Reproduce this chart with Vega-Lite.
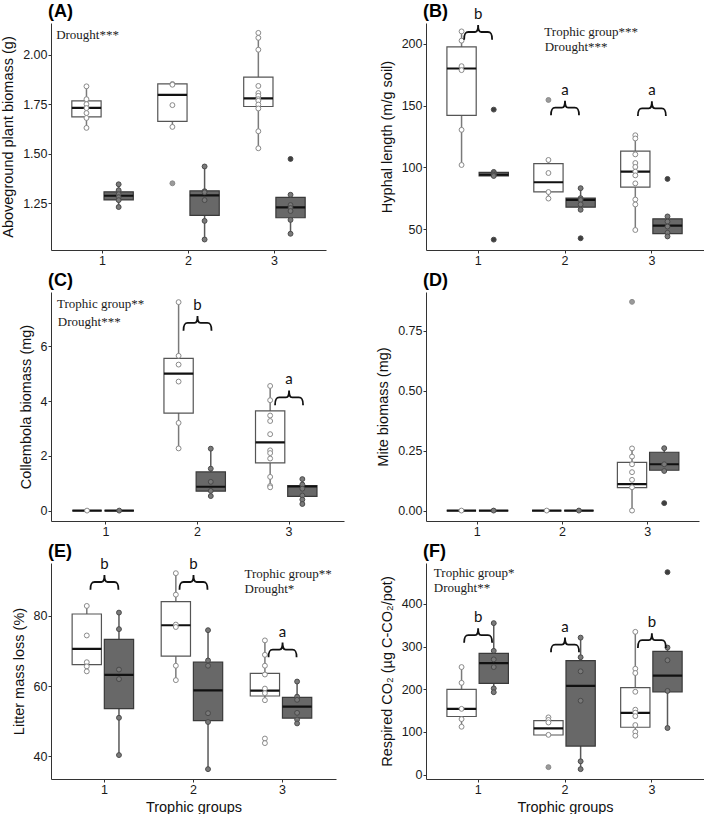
{
"$schema": "https://vega.github.io/schema/vega-lite/v6.json",
"background": "white",
"padding": {"top": 3, "left": 0, "right": 0, "bottom": 0},
"columns": 2,
"bounds": "flush",
"align": "each",
"spacing": {"row": 42, "column": 82},
"config": {
 "view": {"stroke": null},
 "font": "Liberation Sans",
 "axis": {"grid": false, "domainColor": "#333333", "domainWidth": 1, "tickColor": "#333333", "tickSize": 3, "tickWidth": 1, "labelFont": "Liberation Sans", "labelFontSize": 12.5, "labelColor": "#1a1a1a", "labelPadding": 1, "titleFont": "Liberation Sans", "titleFontSize": 14.5, "titleFontWeight": "normal", "titleColor": "#111111", "titlePadding": 7},
 "axisX": {"labelAngle": 0, "titlePadding": 5, "labelPadding": 1},
 "title": {"font": "Liberation Sans", "fontSize": 18, "fontWeight": "bold", "anchor": "start", "frame": "group", "color": "#000000"}
},
"datasets": {
 "boxes": [
  {"panel":"A","group":1,"trt":"Control","lo":1.63,"q1":1.686,"med":1.731,"q3":1.767,"hi":1.84},
  {"panel":"A","group":1,"trt":"Drought","lo":1.23,"q1":1.266,"med":1.287,"q3":1.307,"hi":1.345},
  {"panel":"A","group":2,"trt":"Control","lo":1.635,"q1":1.663,"med":1.797,"q3":1.852,"hi":1.852},
  {"panel":"A","group":2,"trt":"Drought","lo":1.066,"q1":1.188,"med":1.289,"q3":1.312,"hi":1.437},
  {"panel":"A","group":3,"trt":"Control","lo":1.527,"q1":1.738,"med":1.779,"q3":1.887,"hi":2.11},
  {"panel":"A","group":3,"trt":"Drought","lo":1.095,"q1":1.176,"med":1.228,"q3":1.279,"hi":1.294},
  {"panel":"B","group":1,"trt":"Control","lo":101.9,"q1":142.2,"med":180.1,"q3":197.6,"hi":210.2},
  {"panel":"B","group":1,"trt":"Drought","lo":93,"q1":93,"med":94,"q3":96,"hi":96.3},
  {"panel":"B","group":2,"trt":"Control","lo":74.7,"q1":80.1,"med":87.9,"q3":103,"hi":106},
  {"panel":"B","group":2,"trt":"Drought","lo":65.6,"q1":67.7,"med":73.7,"q3":75,"hi":83.1},
  {"panel":"B","group":3,"trt":"Control","lo":49.2,"q1":83.9,"med":96.5,"q3":113.2,"hi":126},
  {"panel":"B","group":3,"trt":"Drought","lo":43.5,"q1":46.2,"med":52.7,"q3":58.3,"hi":60.2},
  {"panel":"C","group":1,"trt":"Control","lo":0,"q1":0,"med":0,"q3":0,"hi":0},
  {"panel":"C","group":1,"trt":"Drought","lo":0,"q1":0,"med":0,"q3":0,"hi":0},
  {"panel":"C","group":2,"trt":"Control","lo":2.27,"q1":3.56,"med":5.0,"q3":5.56,"hi":7.61},
  {"panel":"C","group":2,"trt":"Drought","lo":0.52,"q1":0.71,"med":0.87,"q3":1.41,"hi":2.26},
  {"panel":"C","group":3,"trt":"Control","lo":0.85,"q1":1.74,"med":2.49,"q3":3.64,"hi":4.55},
  {"panel":"C","group":3,"trt":"Drought","lo":0.24,"q1":0.52,"med":0.88,"q3":0.91,"hi":1.15},
  {"panel":"D","group":1,"trt":"Control","lo":0,"q1":0,"med":0,"q3":0,"hi":0},
  {"panel":"D","group":1,"trt":"Drought","lo":0,"q1":0,"med":0,"q3":0,"hi":0},
  {"panel":"D","group":2,"trt":"Control","lo":0,"q1":0,"med":0,"q3":0,"hi":0},
  {"panel":"D","group":2,"trt":"Drought","lo":0,"q1":0,"med":0,"q3":0,"hi":0},
  {"panel":"D","group":3,"trt":"Control","lo":0,"q1":0.096,"med":0.11,"q3":0.201,"hi":0.259},
  {"panel":"D","group":3,"trt":"Drought","lo":0.16,"q1":0.168,"med":0.193,"q3":0.243,"hi":0.26},
  {"panel":"E","group":1,"trt":"Control","lo":64.2,"q1":66.1,"med":70.6,"q3":80.5,"hi":82.8},
  {"panel":"E","group":1,"trt":"Drought","lo":40.4,"q1":53.6,"med":63.2,"q3":73.3,"hi":80.9},
  {"panel":"E","group":2,"trt":"Control","lo":61.7,"q1":68.5,"med":77.3,"q3":84.0,"hi":92.1},
  {"panel":"E","group":2,"trt":"Drought","lo":36.4,"q1":50.2,"med":58.8,"q3":66.8,"hi":75.9},
  {"panel":"E","group":3,"trt":"Control","lo":56.0,"q1":57.2,"med":58.7,"q3":63.6,"hi":73.0},
  {"panel":"E","group":3,"trt":"Drought","lo":49.4,"q1":50.9,"med":54.2,"q3":56.8,"hi":61.3},
  {"panel":"F","group":1,"trt":"Control","lo":111.5,"q1":136,"med":154,"q3":199.5,"hi":253.7},
  {"panel":"F","group":1,"trt":"Drought","lo":191.7,"q1":213.7,"med":261,"q3":284,"hi":355},
  {"panel":"F","group":2,"trt":"Control","lo":92.7,"q1":92.7,"med":108.4,"q3":126.5,"hi":134},
  {"panel":"F","group":2,"trt":"Drought","lo":12.6,"q1":66.8,"med":208,"q3":267,"hi":321},
  {"panel":"F","group":3,"trt":"Control","lo":91,"q1":110.8,"med":144.5,"q3":204,"hi":334.6},
  {"panel":"F","group":3,"trt":"Drought","lo":109,"q1":194,"med":231.7,"q3":289,"hi":297.7}
 ],
 "points": [
  {"panel":"A","group":1,"trt":"Control","value":1.84},{"panel":"A","group":1,"trt":"Control","value":1.775},{"panel":"A","group":1,"trt":"Control","value":1.75},{"panel":"A","group":1,"trt":"Control","value":1.73},{"panel":"A","group":1,"trt":"Control","value":1.705},{"panel":"A","group":1,"trt":"Control","value":1.68},{"panel":"A","group":1,"trt":"Control","value":1.63},
  {"panel":"A","group":1,"trt":"Drought","value":1.345},{"panel":"A","group":1,"trt":"Drought","value":1.315},{"panel":"A","group":1,"trt":"Drought","value":1.295},{"panel":"A","group":1,"trt":"Drought","value":1.28},{"panel":"A","group":1,"trt":"Drought","value":1.265},{"panel":"A","group":1,"trt":"Drought","value":1.23},
  {"panel":"A","group":2,"trt":"Control","value":1.852},{"panel":"A","group":2,"trt":"Control","value":1.848},{"panel":"A","group":2,"trt":"Control","value":1.745},{"panel":"A","group":2,"trt":"Control","value":1.635},{"panel":"A","group":2,"trt":"Control","value":1.35,"outlier":true},
  {"panel":"A","group":2,"trt":"Drought","value":1.435},{"panel":"A","group":2,"trt":"Drought","value":1.31},{"panel":"A","group":2,"trt":"Drought","value":1.305},{"panel":"A","group":2,"trt":"Drought","value":1.265},{"panel":"A","group":2,"trt":"Drought","value":1.16},{"panel":"A","group":2,"trt":"Drought","value":1.066},
  {"panel":"A","group":3,"trt":"Control","value":2.11},{"panel":"A","group":3,"trt":"Control","value":2.085},{"panel":"A","group":3,"trt":"Control","value":2.025},{"panel":"A","group":3,"trt":"Control","value":1.842},{"panel":"A","group":3,"trt":"Control","value":1.806},{"panel":"A","group":3,"trt":"Control","value":1.792},{"panel":"A","group":3,"trt":"Control","value":1.775},{"panel":"A","group":3,"trt":"Control","value":1.767},{"panel":"A","group":3,"trt":"Control","value":1.748},{"panel":"A","group":3,"trt":"Control","value":1.728},{"panel":"A","group":3,"trt":"Control","value":1.613},{"panel":"A","group":3,"trt":"Control","value":1.527},
  {"panel":"A","group":3,"trt":"Drought","value":1.473,"outlier":true},{"panel":"A","group":3,"trt":"Drought","value":1.292},{"panel":"A","group":3,"trt":"Drought","value":1.24},{"panel":"A","group":3,"trt":"Drought","value":1.225},{"panel":"A","group":3,"trt":"Drought","value":1.21},{"panel":"A","group":3,"trt":"Drought","value":1.165},{"panel":"A","group":3,"trt":"Drought","value":1.095},
  {"panel":"B","group":1,"trt":"Control","value":210.2},{"panel":"B","group":1,"trt":"Control","value":202.7},{"panel":"B","group":1,"trt":"Control","value":182},{"panel":"B","group":1,"trt":"Control","value":178.8},{"panel":"B","group":1,"trt":"Control","value":130.4},{"panel":"B","group":1,"trt":"Control","value":101.9},
  {"panel":"B","group":1,"trt":"Drought","value":146.8,"outlier":true},{"panel":"B","group":1,"trt":"Drought","value":96.3},{"panel":"B","group":1,"trt":"Drought","value":95.2},{"panel":"B","group":1,"trt":"Drought","value":94},{"panel":"B","group":1,"trt":"Drought","value":93},{"panel":"B","group":1,"trt":"Drought","value":41.4,"outlier":true},
  {"panel":"B","group":2,"trt":"Control","value":154.6,"outlier":true},{"panel":"B","group":2,"trt":"Control","value":106},{"panel":"B","group":2,"trt":"Control","value":95.4},{"panel":"B","group":2,"trt":"Control","value":80},{"panel":"B","group":2,"trt":"Control","value":74.7},
  {"panel":"B","group":2,"trt":"Drought","value":83.1},{"panel":"B","group":2,"trt":"Drought","value":75},{"panel":"B","group":2,"trt":"Drought","value":73.5},{"panel":"B","group":2,"trt":"Drought","value":70},{"panel":"B","group":2,"trt":"Drought","value":65.6},{"panel":"B","group":2,"trt":"Drought","value":42.5,"outlier":true},
  {"panel":"B","group":3,"trt":"Control","value":126},{"panel":"B","group":3,"trt":"Control","value":123.4},{"panel":"B","group":3,"trt":"Control","value":110.5},{"panel":"B","group":3,"trt":"Control","value":103.5},{"panel":"B","group":3,"trt":"Control","value":100.3},{"panel":"B","group":3,"trt":"Control","value":96.5},{"panel":"B","group":3,"trt":"Control","value":93.5},{"panel":"B","group":3,"trt":"Control","value":87},{"panel":"B","group":3,"trt":"Control","value":73.9},{"panel":"B","group":3,"trt":"Control","value":69.9},{"panel":"B","group":3,"trt":"Control","value":49.2},
  {"panel":"B","group":3,"trt":"Drought","value":90.6,"outlier":true},{"panel":"B","group":3,"trt":"Drought","value":60.2},{"panel":"B","group":3,"trt":"Drought","value":56},{"panel":"B","group":3,"trt":"Drought","value":52},{"panel":"B","group":3,"trt":"Drought","value":47},{"panel":"B","group":3,"trt":"Drought","value":44},
  {"panel":"C","group":1,"trt":"Control","value":0},{"panel":"C","group":1,"trt":"Drought","value":0},
  {"panel":"C","group":2,"trt":"Control","value":7.61},{"panel":"C","group":2,"trt":"Control","value":5.65},{"panel":"C","group":2,"trt":"Control","value":5.33},{"panel":"C","group":2,"trt":"Control","value":4.71},{"panel":"C","group":2,"trt":"Control","value":3.2},{"panel":"C","group":2,"trt":"Control","value":2.27},
  {"panel":"C","group":2,"trt":"Drought","value":2.26},{"panel":"C","group":2,"trt":"Drought","value":1.53},{"panel":"C","group":2,"trt":"Drought","value":1.05},{"panel":"C","group":2,"trt":"Drought","value":0.72},{"panel":"C","group":2,"trt":"Drought","value":0.53},
  {"panel":"C","group":3,"trt":"Control","value":4.55},{"panel":"C","group":3,"trt":"Control","value":4.03},{"panel":"C","group":3,"trt":"Control","value":3.47},{"panel":"C","group":3,"trt":"Control","value":3.27},{"panel":"C","group":3,"trt":"Control","value":2.79},{"panel":"C","group":3,"trt":"Control","value":2.2},{"panel":"C","group":3,"trt":"Control","value":2.1},{"panel":"C","group":3,"trt":"Control","value":1.9},{"panel":"C","group":3,"trt":"Control","value":1.23},{"panel":"C","group":3,"trt":"Control","value":0.9},{"panel":"C","group":3,"trt":"Control","value":0.85},
  {"panel":"C","group":3,"trt":"Drought","value":1.15},{"panel":"C","group":3,"trt":"Drought","value":0.95},{"panel":"C","group":3,"trt":"Drought","value":0.8},{"panel":"C","group":3,"trt":"Drought","value":0.55},{"panel":"C","group":3,"trt":"Drought","value":0.4},{"panel":"C","group":3,"trt":"Drought","value":0.24},
  {"panel":"D","group":1,"trt":"Control","value":0},{"panel":"D","group":1,"trt":"Drought","value":0},{"panel":"D","group":2,"trt":"Control","value":0},{"panel":"D","group":2,"trt":"Drought","value":0},
  {"panel":"D","group":3,"trt":"Control","value":0.87,"outlier":true},{"panel":"D","group":3,"trt":"Control","value":0.259},{"panel":"D","group":3,"trt":"Control","value":0.225},{"panel":"D","group":3,"trt":"Control","value":0.193},{"panel":"D","group":3,"trt":"Control","value":0.16},{"panel":"D","group":3,"trt":"Control","value":0.128},{"panel":"D","group":3,"trt":"Control","value":0.097},{"panel":"D","group":3,"trt":"Control","value":0},
  {"panel":"D","group":3,"trt":"Drought","value":0.26},{"panel":"D","group":3,"trt":"Drought","value":0.193},{"panel":"D","group":3,"trt":"Drought","value":0.165},{"panel":"D","group":3,"trt":"Drought","value":0.031,"outlier":true},
  {"panel":"E","group":1,"trt":"Control","value":82.8},{"panel":"E","group":1,"trt":"Control","value":74.4},{"panel":"E","group":1,"trt":"Control","value":66.8},{"panel":"E","group":1,"trt":"Control","value":65.6},{"panel":"E","group":1,"trt":"Control","value":64.2},
  {"panel":"E","group":1,"trt":"Drought","value":80.9},{"panel":"E","group":1,"trt":"Drought","value":76.2},{"panel":"E","group":1,"trt":"Drought","value":64.7},{"panel":"E","group":1,"trt":"Drought","value":62.0},{"panel":"E","group":1,"trt":"Drought","value":51.0},{"panel":"E","group":1,"trt":"Drought","value":40.4},
  {"panel":"E","group":2,"trt":"Control","value":92.1},{"panel":"E","group":2,"trt":"Control","value":86.0},{"panel":"E","group":2,"trt":"Control","value":77.5},{"panel":"E","group":2,"trt":"Control","value":76.8},{"panel":"E","group":2,"trt":"Control","value":65.8},{"panel":"E","group":2,"trt":"Control","value":61.7},
  {"panel":"E","group":2,"trt":"Drought","value":75.9},{"panel":"E","group":2,"trt":"Drought","value":67.3},{"panel":"E","group":2,"trt":"Drought","value":65.8},{"panel":"E","group":2,"trt":"Drought","value":52.3},{"panel":"E","group":2,"trt":"Drought","value":49.8},{"panel":"E","group":2,"trt":"Drought","value":36.4},
  {"panel":"E","group":3,"trt":"Control","value":73.0},{"panel":"E","group":3,"trt":"Control","value":68.9},{"panel":"E","group":3,"trt":"Control","value":65.8},{"panel":"E","group":3,"trt":"Control","value":63.3},{"panel":"E","group":3,"trt":"Control","value":59.3},{"panel":"E","group":3,"trt":"Control","value":58.0},{"panel":"E","group":3,"trt":"Control","value":56.0},{"panel":"E","group":3,"trt":"Control","value":45.1},{"panel":"E","group":3,"trt":"Control","value":43.8},
  {"panel":"E","group":3,"trt":"Drought","value":61.3},{"panel":"E","group":3,"trt":"Drought","value":57.0},{"panel":"E","group":3,"trt":"Drought","value":56.1},{"panel":"E","group":3,"trt":"Drought","value":52.4},{"panel":"E","group":3,"trt":"Drought","value":50.5},{"panel":"E","group":3,"trt":"Drought","value":49.4},
  {"panel":"F","group":1,"trt":"Control","value":252},{"panel":"F","group":1,"trt":"Control","value":215},{"panel":"F","group":1,"trt":"Control","value":154},{"panel":"F","group":1,"trt":"Control","value":130},{"panel":"F","group":1,"trt":"Control","value":112},
  {"panel":"F","group":1,"trt":"Drought","value":355},{"panel":"F","group":1,"trt":"Drought","value":290},{"panel":"F","group":1,"trt":"Drought","value":270},{"panel":"F","group":1,"trt":"Drought","value":252},{"panel":"F","group":1,"trt":"Drought","value":202},{"panel":"F","group":1,"trt":"Drought","value":193},
  {"panel":"F","group":2,"trt":"Control","value":134},{"panel":"F","group":2,"trt":"Control","value":128},{"panel":"F","group":2,"trt":"Control","value":122},{"panel":"F","group":2,"trt":"Control","value":93},{"panel":"F","group":2,"trt":"Control","value":17.3,"outlier":true},
  {"panel":"F","group":2,"trt":"Drought","value":321},{"panel":"F","group":2,"trt":"Drought","value":275},{"panel":"F","group":2,"trt":"Drought","value":242},{"panel":"F","group":2,"trt":"Drought","value":173},{"panel":"F","group":2,"trt":"Drought","value":31},{"panel":"F","group":2,"trt":"Drought","value":12.6},
  {"panel":"F","group":3,"trt":"Control","value":334.6},{"panel":"F","group":3,"trt":"Control","value":248},{"panel":"F","group":3,"trt":"Control","value":238},{"panel":"F","group":3,"trt":"Control","value":194},{"panel":"F","group":3,"trt":"Control","value":152},{"panel":"F","group":3,"trt":"Control","value":145},{"panel":"F","group":3,"trt":"Control","value":137},{"panel":"F","group":3,"trt":"Control","value":116},{"panel":"F","group":3,"trt":"Control","value":100},{"panel":"F","group":3,"trt":"Control","value":91},
  {"panel":"F","group":3,"trt":"Drought","value":474.5,"outlier":true},{"panel":"F","group":3,"trt":"Drought","value":297.7},{"panel":"F","group":3,"trt":"Drought","value":268},{"panel":"F","group":3,"trt":"Drought","value":196},{"panel":"F","group":3,"trt":"Drought","value":109}
 ],
 "braces": [
  {"panel":"B","group":1,"y":209.7,"letter":"b"},{"panel":"B","group":2,"y":148.4,"letter":"a"},{"panel":"B","group":3,"y":147.8,"letter":"a"},
  {"panel":"C","group":2,"y":6.85,"letter":"b"},{"panel":"C","group":3,"y":4.13,"letter":"a"},
  {"panel":"E","group":1,"y":89.6,"letter":"b"},{"panel":"E","group":2,"y":89.6,"letter":"b"},{"panel":"E","group":3,"y":70.4,"letter":"a"},
  {"panel":"F","group":1,"y":326.8,"letter":"b"},{"panel":"F","group":2,"y":304.8,"letter":"a"},{"panel":"F","group":3,"y":315,"letter":"b"}
 ],
 "notes": [
  {"panel":"A","x":0.46,"y":2.10,"label":"Drought***"},
  {"panel":"B","x":1.762,"y":209.7,"label":"Trophic group***"},{"panel":"B","x":1.766,"y":197.6,"label":"Drought***"},
  {"panel":"C","x":0.465,"y":7.54,"label":"Trophic group**"},{"panel":"C","x":0.475,"y":6.9,"label":"Drought***"},
  {"panel":"E","x":2.573,"y":91.9,"label":"Trophic group**"},{"panel":"E","x":2.573,"y":87.5,"label":"Drought*"},
  {"panel":"F","x":0.49,"y":473.7,"label":"Trophic group*"},{"panel":"F","x":0.49,"y":436.8,"label":"Drought**"}
 ]
},
"concat": [
 {"width":275,"height":227,"title":{"text":"(A)","frame":"group","anchor":"start","offset":2,"dx":-3},"resolve":{"scale":{"x":"independent"}},
  "layer":[
   {"layer":[
    {"data":{"name":"boxes"},"transform":[{"filter":"datum.panel==='A'"}],"mark":{"type":"rule","strokeWidth":1.5},
     "encoding":{"x":{"field":"group","type":"ordinal","scale":{"type":"band","domain":[1,2,3],"paddingInner":0,"paddingOuter":0.1},"axis":{"title":null}},
      "xOffset":{"field":"trt","type":"nominal","scale":{"type":"band","domain":["Control","Drought"],"paddingInner":0.09,"paddingOuter":0.38}},
      "y":{"field":"lo","type":"quantitative","scale":{"domain":[1.013,2.16],"nice":false,"zero":false},"axis":{"title":"Aboveground plant biomass (g)","values":[1.25,1.5,1.75,2],"format":".2f"}},
      "y2":{"field":"hi"},
      "stroke":{"condition":{"test":"datum.trt==='Drought'","value":"#595959"},"value":"#7a7a7a"}}},
    {"data":{"name":"boxes"},"transform":[{"filter":"datum.panel==='A'"}],"mark":{"type":"bar","strokeWidth":1.2},
     "encoding":{"x":{"field":"group","type":"ordinal","scale":{"type":"band","domain":[1,2,3],"paddingInner":0,"paddingOuter":0.1}},
      "xOffset":{"field":"trt","type":"nominal","scale":{"type":"band","domain":["Control","Drought"],"paddingInner":0.09,"paddingOuter":0.38}},
      "y":{"field":"q1","type":"quantitative","scale":{"domain":[1.013,2.16],"nice":false,"zero":false}},
      "y2":{"field":"q3"},
      "fill":{"condition":{"test":"datum.trt==='Drought'","value":"#686868"},"value":"#ffffff"},
      "stroke":{"condition":{"test":"datum.trt==='Drought'","value":"#3a3a3a"},"value":"#555555"}}},
    {"data":{"name":"boxes"},"transform":[{"filter":"datum.panel==='A'"}],"mark":{"type":"bar","fill":"transparent","stroke":"#111111","strokeWidth":2.2},
     "encoding":{"x":{"field":"group","type":"ordinal","scale":{"type":"band","domain":[1,2,3],"paddingInner":0,"paddingOuter":0.1}},
      "xOffset":{"field":"trt","type":"nominal","scale":{"type":"band","domain":["Control","Drought"],"paddingInner":0.09,"paddingOuter":0.38}},
      "y":{"field":"med","type":"quantitative","scale":{"domain":[1.013,2.16],"nice":false,"zero":false}},
      "y2":{"field":"med"}}},
    {"data":{"name":"points"},"transform":[{"filter":"datum.panel==='A'"}],"mark":{"type":"point","shape":"circle","filled":true,"size":24,"strokeWidth":1,"opacity":1},
     "encoding":{"x":{"field":"group","type":"ordinal","scale":{"type":"band","domain":[1,2,3],"paddingInner":0,"paddingOuter":0.1}},
      "xOffset":{"field":"trt","type":"nominal","scale":{"type":"band","domain":["Control","Drought"],"paddingInner":0.09,"paddingOuter":0.38}},
      "y":{"field":"value","type":"quantitative","scale":{"domain":[1.013,2.16],"nice":false,"zero":false}},
      "fill":{"condition":[{"test":"datum.outlier && datum.trt==='Drought'","value":"#3e3e3e"},{"test":"datum.outlier","value":"#9a9a9a"},{"test":"datum.trt==='Drought'","value":"#7a7a7a"}],"value":"#ffffff"},
      "stroke":{"condition":{"test":"datum.trt==='Drought'","value":"#4a4a4a"},"value":"#8a8a8a"}}}
   ]},
   {"data":{"name":"notes"},"transform":[{"filter":"datum.panel==='A'"}],"mark":{"type":"text","align":"left","baseline":"middle","font":"Liberation Serif","fontSize":13,"color":"#1a1a1a"},
    "encoding":{"x":{"field":"x","type":"quantitative","scale":{"domain":[0.4,3.6],"nice":false,"zero":false},"axis":null},
     "y":{"field":"y","type":"quantitative","scale":{"domain":[1.013,2.16],"nice":false,"zero":false}},
     "text":{"field":"label"}}}
  ]},
 {"width":278,"height":227,"title":{"text":"(B)","frame":"group","anchor":"start","offset":-14,"dx":-3},"resolve":{"scale":{"x":"independent"}},
  "layer":[
   {"layer":[
    {"data":{"name":"boxes"},"transform":[{"filter":"datum.panel==='B'"}],"mark":{"type":"rule","strokeWidth":1.5},
     "encoding":{"x":{"field":"group","type":"ordinal","scale":{"type":"band","domain":[1,2,3],"paddingInner":0,"paddingOuter":0.1},"axis":{"title":null}},
      "xOffset":{"field":"trt","type":"nominal","scale":{"type":"band","domain":["Control","Drought"],"paddingInner":0.09,"paddingOuter":0.38}},
      "y":{"field":"lo","type":"quantitative","scale":{"domain":[33,217],"nice":false,"zero":false},"axis":{"title":"Hyphal length (m/g soil)","values":[50,100,150,200]}},
      "y2":{"field":"hi"},
      "stroke":{"condition":{"test":"datum.trt==='Drought'","value":"#595959"},"value":"#7a7a7a"}}},
    {"data":{"name":"boxes"},"transform":[{"filter":"datum.panel==='B'"}],"mark":{"type":"bar","strokeWidth":1.2},
     "encoding":{"x":{"field":"group","type":"ordinal","scale":{"type":"band","domain":[1,2,3],"paddingInner":0,"paddingOuter":0.1}},
      "xOffset":{"field":"trt","type":"nominal","scale":{"type":"band","domain":["Control","Drought"],"paddingInner":0.09,"paddingOuter":0.38}},
      "y":{"field":"q1","type":"quantitative","scale":{"domain":[33,217],"nice":false,"zero":false}},
      "y2":{"field":"q3"},
      "fill":{"condition":{"test":"datum.trt==='Drought'","value":"#686868"},"value":"#ffffff"},
      "stroke":{"condition":{"test":"datum.trt==='Drought'","value":"#3a3a3a"},"value":"#555555"}}},
    {"data":{"name":"boxes"},"transform":[{"filter":"datum.panel==='B'"}],"mark":{"type":"bar","fill":"transparent","stroke":"#111111","strokeWidth":2.2},
     "encoding":{"x":{"field":"group","type":"ordinal","scale":{"type":"band","domain":[1,2,3],"paddingInner":0,"paddingOuter":0.1}},
      "xOffset":{"field":"trt","type":"nominal","scale":{"type":"band","domain":["Control","Drought"],"paddingInner":0.09,"paddingOuter":0.38}},
      "y":{"field":"med","type":"quantitative","scale":{"domain":[33,217],"nice":false,"zero":false}},
      "y2":{"field":"med"}}},
    {"data":{"name":"points"},"transform":[{"filter":"datum.panel==='B'"}],"mark":{"type":"point","shape":"circle","filled":true,"size":24,"strokeWidth":1,"opacity":1},
     "encoding":{"x":{"field":"group","type":"ordinal","scale":{"type":"band","domain":[1,2,3],"paddingInner":0,"paddingOuter":0.1}},
      "xOffset":{"field":"trt","type":"nominal","scale":{"type":"band","domain":["Control","Drought"],"paddingInner":0.09,"paddingOuter":0.38}},
      "y":{"field":"value","type":"quantitative","scale":{"domain":[33,217],"nice":false,"zero":false}},
      "fill":{"condition":[{"test":"datum.outlier && datum.trt==='Drought'","value":"#3e3e3e"},{"test":"datum.outlier","value":"#9a9a9a"},{"test":"datum.trt==='Drought'","value":"#7a7a7a"}],"value":"#ffffff"},
      "stroke":{"condition":{"test":"datum.trt==='Drought'","value":"#4a4a4a"},"value":"#8a8a8a"}}},
    {"data":{"name":"braces"},"transform":[{"filter":"datum.panel==='B'"}],"mark":{"type":"point","shape":"M -1 0.55 C -1 0.12 -0.92 0 -0.7 0 L -0.22 0 C -0.06 0 0 -0.12 0 -0.5 C 0 -0.12 0.06 0 0.22 0 L 0.7 0 C 0.92 0 1 0.12 1 0.55","filled":false,"fill":null,"stroke":"#111111","strokeWidth":1.8,"size":784,"opacity":1},
     "encoding":{"x":{"field":"group","type":"ordinal","scale":{"type":"band","domain":[1,2,3],"paddingInner":0,"paddingOuter":0.1}},
      "y":{"field":"y","type":"quantitative","scale":{"domain":[33,217],"nice":false,"zero":false}}}},
    {"data":{"name":"braces"},"transform":[{"filter":"datum.panel==='B'"}],"mark":{"type":"text","font":"Lato","fontSize":15,"color":"#111111","baseline":"alphabetic","dy":-13},
     "encoding":{"x":{"field":"group","type":"ordinal","scale":{"type":"band","domain":[1,2,3],"paddingInner":0,"paddingOuter":0.1}},
      "y":{"field":"y","type":"quantitative","scale":{"domain":[33,217],"nice":false,"zero":false}},
      "text":{"field":"letter"}}}
   ]},
   {"data":{"name":"notes"},"transform":[{"filter":"datum.panel==='B'"}],"mark":{"type":"text","align":"left","baseline":"middle","font":"Liberation Serif","fontSize":13,"color":"#1a1a1a"},
    "encoding":{"x":{"field":"x","type":"quantitative","scale":{"domain":[0.4,3.6],"nice":false,"zero":false},"axis":null},
     "y":{"field":"y","type":"quantitative","scale":{"domain":[33,217],"nice":false,"zero":false}},
     "text":{"field":"label"}}}
  ]},
 {"width":293,"height":229,"title":{"text":"(C)","frame":"group","anchor":"start","offset":2,"dx":-3},"resolve":{"scale":{"x":"independent"}},
  "layer":[
   {"layer":[
    {"data":{"name":"boxes"},"transform":[{"filter":"datum.panel==='C'"}],"mark":{"type":"rule","strokeWidth":1.5},
     "encoding":{"x":{"field":"group","type":"ordinal","scale":{"type":"band","domain":[1,2,3],"paddingInner":0,"paddingOuter":0.1},"axis":{"title":null}},
      "xOffset":{"field":"trt","type":"nominal","scale":{"type":"band","domain":["Control","Drought"],"paddingInner":0.09,"paddingOuter":0.38}},
      "y":{"field":"lo","type":"quantitative","scale":{"domain":[-0.38,7.98],"nice":false,"zero":false},"axis":{"title":"Collembola biomass (mg)","values":[0,2,4,6]}},
      "y2":{"field":"hi"},
      "stroke":{"condition":{"test":"datum.trt==='Drought'","value":"#595959"},"value":"#7a7a7a"}}},
    {"data":{"name":"boxes"},"transform":[{"filter":"datum.panel==='C'"}],"mark":{"type":"bar","strokeWidth":1.2},
     "encoding":{"x":{"field":"group","type":"ordinal","scale":{"type":"band","domain":[1,2,3],"paddingInner":0,"paddingOuter":0.1}},
      "xOffset":{"field":"trt","type":"nominal","scale":{"type":"band","domain":["Control","Drought"],"paddingInner":0.09,"paddingOuter":0.38}},
      "y":{"field":"q1","type":"quantitative","scale":{"domain":[-0.38,7.98],"nice":false,"zero":false}},
      "y2":{"field":"q3"},
      "fill":{"condition":{"test":"datum.trt==='Drought'","value":"#686868"},"value":"#ffffff"},
      "stroke":{"condition":{"test":"datum.trt==='Drought'","value":"#3a3a3a"},"value":"#555555"}}},
    {"data":{"name":"boxes"},"transform":[{"filter":"datum.panel==='C'"}],"mark":{"type":"bar","fill":"transparent","stroke":"#111111","strokeWidth":2.2},
     "encoding":{"x":{"field":"group","type":"ordinal","scale":{"type":"band","domain":[1,2,3],"paddingInner":0,"paddingOuter":0.1}},
      "xOffset":{"field":"trt","type":"nominal","scale":{"type":"band","domain":["Control","Drought"],"paddingInner":0.09,"paddingOuter":0.38}},
      "y":{"field":"med","type":"quantitative","scale":{"domain":[-0.38,7.98],"nice":false,"zero":false}},
      "y2":{"field":"med"}}},
    {"data":{"name":"points"},"transform":[{"filter":"datum.panel==='C'"}],"mark":{"type":"point","shape":"circle","filled":true,"size":24,"strokeWidth":1,"opacity":1},
     "encoding":{"x":{"field":"group","type":"ordinal","scale":{"type":"band","domain":[1,2,3],"paddingInner":0,"paddingOuter":0.1}},
      "xOffset":{"field":"trt","type":"nominal","scale":{"type":"band","domain":["Control","Drought"],"paddingInner":0.09,"paddingOuter":0.38}},
      "y":{"field":"value","type":"quantitative","scale":{"domain":[-0.38,7.98],"nice":false,"zero":false}},
      "fill":{"condition":[{"test":"datum.outlier && datum.trt==='Drought'","value":"#3e3e3e"},{"test":"datum.outlier","value":"#9a9a9a"},{"test":"datum.trt==='Drought'","value":"#7a7a7a"}],"value":"#ffffff"},
      "stroke":{"condition":{"test":"datum.trt==='Drought'","value":"#4a4a4a"},"value":"#8a8a8a"}}},
    {"data":{"name":"braces"},"transform":[{"filter":"datum.panel==='C'"}],"mark":{"type":"point","shape":"M -1 0.55 C -1 0.12 -0.92 0 -0.7 0 L -0.22 0 C -0.06 0 0 -0.12 0 -0.5 C 0 -0.12 0.06 0 0.22 0 L 0.7 0 C 0.92 0 1 0.12 1 0.55","filled":false,"fill":null,"stroke":"#111111","strokeWidth":1.8,"size":784,"opacity":1},
     "encoding":{"x":{"field":"group","type":"ordinal","scale":{"type":"band","domain":[1,2,3],"paddingInner":0,"paddingOuter":0.1}},
      "y":{"field":"y","type":"quantitative","scale":{"domain":[-0.38,7.98],"nice":false,"zero":false}}}},
    {"data":{"name":"braces"},"transform":[{"filter":"datum.panel==='C'"}],"mark":{"type":"text","font":"Lato","fontSize":15,"color":"#111111","baseline":"alphabetic","dy":-13},
     "encoding":{"x":{"field":"group","type":"ordinal","scale":{"type":"band","domain":[1,2,3],"paddingInner":0,"paddingOuter":0.1}},
      "y":{"field":"y","type":"quantitative","scale":{"domain":[-0.38,7.98],"nice":false,"zero":false}},
      "text":{"field":"letter"}}}
   ]},
   {"data":{"name":"notes"},"transform":[{"filter":"datum.panel==='C'"}],"mark":{"type":"text","align":"left","baseline":"middle","font":"Liberation Serif","fontSize":13,"color":"#1a1a1a"},
    "encoding":{"x":{"field":"x","type":"quantitative","scale":{"domain":[0.4,3.6],"nice":false,"zero":false},"axis":null},
     "y":{"field":"y","type":"quantitative","scale":{"domain":[-0.38,7.98],"nice":false,"zero":false}},
     "text":{"field":"label"}}}
  ]},
 {"width":273,"height":229,"title":{"text":"(D)","frame":"group","anchor":"start","offset":2,"dx":-3},
  "layer":[
    {"data":{"name":"boxes"},"transform":[{"filter":"datum.panel==='D'"}],"mark":{"type":"rule","strokeWidth":1.5},
     "encoding":{"x":{"field":"group","type":"ordinal","scale":{"type":"band","domain":[1,2,3],"paddingInner":0,"paddingOuter":0.1},"axis":{"title":null}},
      "xOffset":{"field":"trt","type":"nominal","scale":{"type":"band","domain":["Control","Drought"],"paddingInner":0.09,"paddingOuter":0.38}},
      "y":{"field":"lo","type":"quantitative","scale":{"domain":[-0.0435,0.911],"nice":false,"zero":false},"axis":{"title":"Mite biomass (mg)","values":[0,0.25,0.5,0.75],"format":".2f"}},
      "y2":{"field":"hi"},
      "stroke":{"condition":{"test":"datum.trt==='Drought'","value":"#595959"},"value":"#7a7a7a"}}},
    {"data":{"name":"boxes"},"transform":[{"filter":"datum.panel==='D'"}],"mark":{"type":"bar","strokeWidth":1.2},
     "encoding":{"x":{"field":"group","type":"ordinal","scale":{"type":"band","domain":[1,2,3],"paddingInner":0,"paddingOuter":0.1}},
      "xOffset":{"field":"trt","type":"nominal","scale":{"type":"band","domain":["Control","Drought"],"paddingInner":0.09,"paddingOuter":0.38}},
      "y":{"field":"q1","type":"quantitative","scale":{"domain":[-0.0435,0.911],"nice":false,"zero":false}},
      "y2":{"field":"q3"},
      "fill":{"condition":{"test":"datum.trt==='Drought'","value":"#686868"},"value":"#ffffff"},
      "stroke":{"condition":{"test":"datum.trt==='Drought'","value":"#3a3a3a"},"value":"#555555"}}},
    {"data":{"name":"boxes"},"transform":[{"filter":"datum.panel==='D'"}],"mark":{"type":"bar","fill":"transparent","stroke":"#111111","strokeWidth":2.2},
     "encoding":{"x":{"field":"group","type":"ordinal","scale":{"type":"band","domain":[1,2,3],"paddingInner":0,"paddingOuter":0.1}},
      "xOffset":{"field":"trt","type":"nominal","scale":{"type":"band","domain":["Control","Drought"],"paddingInner":0.09,"paddingOuter":0.38}},
      "y":{"field":"med","type":"quantitative","scale":{"domain":[-0.0435,0.911],"nice":false,"zero":false}},
      "y2":{"field":"med"}}},
    {"data":{"name":"points"},"transform":[{"filter":"datum.panel==='D'"}],"mark":{"type":"point","shape":"circle","filled":true,"size":24,"strokeWidth":1,"opacity":1},
     "encoding":{"x":{"field":"group","type":"ordinal","scale":{"type":"band","domain":[1,2,3],"paddingInner":0,"paddingOuter":0.1}},
      "xOffset":{"field":"trt","type":"nominal","scale":{"type":"band","domain":["Control","Drought"],"paddingInner":0.09,"paddingOuter":0.38}},
      "y":{"field":"value","type":"quantitative","scale":{"domain":[-0.0435,0.911],"nice":false,"zero":false}},
      "fill":{"condition":[{"test":"datum.outlier && datum.trt==='Drought'","value":"#3e3e3e"},{"test":"datum.outlier","value":"#9a9a9a"},{"test":"datum.trt==='Drought'","value":"#7a7a7a"}],"value":"#ffffff"},
      "stroke":{"condition":{"test":"datum.trt==='Drought'","value":"#4a4a4a"},"value":"#8a8a8a"}}}
  ]},
 {"width":285,"height":216,"title":{"text":"(E)","frame":"group","anchor":"start","offset":-4,"dx":-3},"resolve":{"scale":{"x":"independent"}},
  "layer":[
   {"layer":[
    {"data":{"name":"boxes"},"transform":[{"filter":"datum.panel==='E'"}],"mark":{"type":"rule","strokeWidth":1.5},
     "encoding":{"x":{"field":"group","type":"ordinal","scale":{"type":"band","domain":[1,2,3],"paddingInner":0,"paddingOuter":0.1},"axis":{"title":"Trophic groups"}},
      "xOffset":{"field":"trt","type":"nominal","scale":{"type":"band","domain":["Control","Drought"],"paddingInner":0.09,"paddingOuter":0.38}},
      "y":{"field":"lo","type":"quantitative","scale":{"domain":[33.6,95],"nice":false,"zero":false},"axis":{"title":"Litter mass loss (%)","values":[40,60,80]}},
      "y2":{"field":"hi"},
      "stroke":{"condition":{"test":"datum.trt==='Drought'","value":"#595959"},"value":"#7a7a7a"}}},
    {"data":{"name":"boxes"},"transform":[{"filter":"datum.panel==='E'"}],"mark":{"type":"bar","strokeWidth":1.2},
     "encoding":{"x":{"field":"group","type":"ordinal","scale":{"type":"band","domain":[1,2,3],"paddingInner":0,"paddingOuter":0.1}},
      "xOffset":{"field":"trt","type":"nominal","scale":{"type":"band","domain":["Control","Drought"],"paddingInner":0.09,"paddingOuter":0.38}},
      "y":{"field":"q1","type":"quantitative","scale":{"domain":[33.6,95],"nice":false,"zero":false}},
      "y2":{"field":"q3"},
      "fill":{"condition":{"test":"datum.trt==='Drought'","value":"#686868"},"value":"#ffffff"},
      "stroke":{"condition":{"test":"datum.trt==='Drought'","value":"#3a3a3a"},"value":"#555555"}}},
    {"data":{"name":"boxes"},"transform":[{"filter":"datum.panel==='E'"}],"mark":{"type":"bar","fill":"transparent","stroke":"#111111","strokeWidth":2.2},
     "encoding":{"x":{"field":"group","type":"ordinal","scale":{"type":"band","domain":[1,2,3],"paddingInner":0,"paddingOuter":0.1}},
      "xOffset":{"field":"trt","type":"nominal","scale":{"type":"band","domain":["Control","Drought"],"paddingInner":0.09,"paddingOuter":0.38}},
      "y":{"field":"med","type":"quantitative","scale":{"domain":[33.6,95],"nice":false,"zero":false}},
      "y2":{"field":"med"}}},
    {"data":{"name":"points"},"transform":[{"filter":"datum.panel==='E'"}],"mark":{"type":"point","shape":"circle","filled":true,"size":24,"strokeWidth":1,"opacity":1},
     "encoding":{"x":{"field":"group","type":"ordinal","scale":{"type":"band","domain":[1,2,3],"paddingInner":0,"paddingOuter":0.1}},
      "xOffset":{"field":"trt","type":"nominal","scale":{"type":"band","domain":["Control","Drought"],"paddingInner":0.09,"paddingOuter":0.38}},
      "y":{"field":"value","type":"quantitative","scale":{"domain":[33.6,95],"nice":false,"zero":false}},
      "fill":{"condition":[{"test":"datum.outlier && datum.trt==='Drought'","value":"#3e3e3e"},{"test":"datum.outlier","value":"#9a9a9a"},{"test":"datum.trt==='Drought'","value":"#7a7a7a"}],"value":"#ffffff"},
      "stroke":{"condition":{"test":"datum.trt==='Drought'","value":"#4a4a4a"},"value":"#8a8a8a"}}},
    {"data":{"name":"braces"},"transform":[{"filter":"datum.panel==='E'"}],"mark":{"type":"point","shape":"M -1 0.55 C -1 0.12 -0.92 0 -0.7 0 L -0.22 0 C -0.06 0 0 -0.12 0 -0.5 C 0 -0.12 0.06 0 0.22 0 L 0.7 0 C 0.92 0 1 0.12 1 0.55","filled":false,"fill":null,"stroke":"#111111","strokeWidth":1.8,"size":784,"opacity":1},
     "encoding":{"x":{"field":"group","type":"ordinal","scale":{"type":"band","domain":[1,2,3],"paddingInner":0,"paddingOuter":0.1}},
      "y":{"field":"y","type":"quantitative","scale":{"domain":[33.6,95],"nice":false,"zero":false}}}},
    {"data":{"name":"braces"},"transform":[{"filter":"datum.panel==='E'"}],"mark":{"type":"text","font":"Lato","fontSize":15,"color":"#111111","baseline":"alphabetic","dy":-13},
     "encoding":{"x":{"field":"group","type":"ordinal","scale":{"type":"band","domain":[1,2,3],"paddingInner":0,"paddingOuter":0.1}},
      "y":{"field":"y","type":"quantitative","scale":{"domain":[33.6,95],"nice":false,"zero":false}},
      "text":{"field":"letter"}}}
   ]},
   {"data":{"name":"notes"},"transform":[{"filter":"datum.panel==='E'"}],"mark":{"type":"text","align":"left","baseline":"middle","font":"Liberation Serif","fontSize":13,"color":"#1a1a1a"},
    "encoding":{"x":{"field":"x","type":"quantitative","scale":{"domain":[0.4,3.6],"nice":false,"zero":false},"axis":null},
     "y":{"field":"y","type":"quantitative","scale":{"domain":[33.6,95],"nice":false,"zero":false}},
     "text":{"field":"label"}}}
  ]},
 {"width":278,"height":216,"title":{"text":"(F)","frame":"group","anchor":"start","offset":2,"dx":-3},"resolve":{"scale":{"x":"independent"}},
  "layer":[
   {"layer":[
    {"data":{"name":"boxes"},"transform":[{"filter":"datum.panel==='F'"}],"mark":{"type":"rule","strokeWidth":1.5},
     "encoding":{"x":{"field":"group","type":"ordinal","scale":{"type":"band","domain":[1,2,3],"paddingInner":0,"paddingOuter":0.1},"axis":{"title":"Trophic groups"}},
      "xOffset":{"field":"trt","type":"nominal","scale":{"type":"band","domain":["Control","Drought"],"paddingInner":0.09,"paddingOuter":0.38}},
      "y":{"field":"lo","type":"quantitative","scale":{"domain":[-10.5,496],"nice":false,"zero":false},"axis":{"title":"Respired CO₂ (µg C-CO₂/pot)","values":[0,100,200,300,400]}},
      "y2":{"field":"hi"},
      "stroke":{"condition":{"test":"datum.trt==='Drought'","value":"#595959"},"value":"#7a7a7a"}}},
    {"data":{"name":"boxes"},"transform":[{"filter":"datum.panel==='F'"}],"mark":{"type":"bar","strokeWidth":1.2},
     "encoding":{"x":{"field":"group","type":"ordinal","scale":{"type":"band","domain":[1,2,3],"paddingInner":0,"paddingOuter":0.1}},
      "xOffset":{"field":"trt","type":"nominal","scale":{"type":"band","domain":["Control","Drought"],"paddingInner":0.09,"paddingOuter":0.38}},
      "y":{"field":"q1","type":"quantitative","scale":{"domain":[-10.5,496],"nice":false,"zero":false}},
      "y2":{"field":"q3"},
      "fill":{"condition":{"test":"datum.trt==='Drought'","value":"#686868"},"value":"#ffffff"},
      "stroke":{"condition":{"test":"datum.trt==='Drought'","value":"#3a3a3a"},"value":"#555555"}}},
    {"data":{"name":"boxes"},"transform":[{"filter":"datum.panel==='F'"}],"mark":{"type":"bar","fill":"transparent","stroke":"#111111","strokeWidth":2.2},
     "encoding":{"x":{"field":"group","type":"ordinal","scale":{"type":"band","domain":[1,2,3],"paddingInner":0,"paddingOuter":0.1}},
      "xOffset":{"field":"trt","type":"nominal","scale":{"type":"band","domain":["Control","Drought"],"paddingInner":0.09,"paddingOuter":0.38}},
      "y":{"field":"med","type":"quantitative","scale":{"domain":[-10.5,496],"nice":false,"zero":false}},
      "y2":{"field":"med"}}},
    {"data":{"name":"points"},"transform":[{"filter":"datum.panel==='F'"}],"mark":{"type":"point","shape":"circle","filled":true,"size":24,"strokeWidth":1,"opacity":1},
     "encoding":{"x":{"field":"group","type":"ordinal","scale":{"type":"band","domain":[1,2,3],"paddingInner":0,"paddingOuter":0.1}},
      "xOffset":{"field":"trt","type":"nominal","scale":{"type":"band","domain":["Control","Drought"],"paddingInner":0.09,"paddingOuter":0.38}},
      "y":{"field":"value","type":"quantitative","scale":{"domain":[-10.5,496],"nice":false,"zero":false}},
      "fill":{"condition":[{"test":"datum.outlier && datum.trt==='Drought'","value":"#3e3e3e"},{"test":"datum.outlier","value":"#9a9a9a"},{"test":"datum.trt==='Drought'","value":"#7a7a7a"}],"value":"#ffffff"},
      "stroke":{"condition":{"test":"datum.trt==='Drought'","value":"#4a4a4a"},"value":"#8a8a8a"}}},
    {"data":{"name":"braces"},"transform":[{"filter":"datum.panel==='F'"}],"mark":{"type":"point","shape":"M -1 0.55 C -1 0.12 -0.92 0 -0.7 0 L -0.22 0 C -0.06 0 0 -0.12 0 -0.5 C 0 -0.12 0.06 0 0.22 0 L 0.7 0 C 0.92 0 1 0.12 1 0.55","filled":false,"fill":null,"stroke":"#111111","strokeWidth":1.8,"size":784,"opacity":1},
     "encoding":{"x":{"field":"group","type":"ordinal","scale":{"type":"band","domain":[1,2,3],"paddingInner":0,"paddingOuter":0.1}},
      "y":{"field":"y","type":"quantitative","scale":{"domain":[-10.5,496],"nice":false,"zero":false}}}},
    {"data":{"name":"braces"},"transform":[{"filter":"datum.panel==='F'"}],"mark":{"type":"text","font":"Lato","fontSize":15,"color":"#111111","baseline":"alphabetic","dy":-13},
     "encoding":{"x":{"field":"group","type":"ordinal","scale":{"type":"band","domain":[1,2,3],"paddingInner":0,"paddingOuter":0.1}},
      "y":{"field":"y","type":"quantitative","scale":{"domain":[-10.5,496],"nice":false,"zero":false}},
      "text":{"field":"letter"}}}
   ]},
   {"data":{"name":"notes"},"transform":[{"filter":"datum.panel==='F'"}],"mark":{"type":"text","align":"left","baseline":"middle","font":"Liberation Serif","fontSize":13,"color":"#1a1a1a"},
    "encoding":{"x":{"field":"x","type":"quantitative","scale":{"domain":[0.4,3.6],"nice":false,"zero":false},"axis":null},
     "y":{"field":"y","type":"quantitative","scale":{"domain":[-10.5,496],"nice":false,"zero":false}},
     "text":{"field":"label"}}}
  ]}
]
}
